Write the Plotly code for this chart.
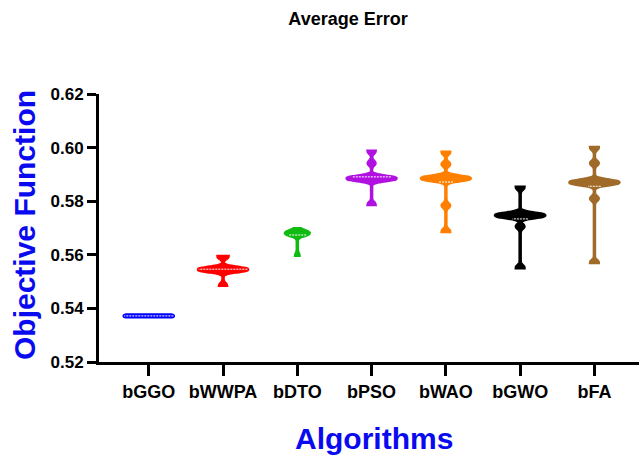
import plotly.graph_objects as go

algorithms = ["bGGO", "bWWPA", "bDTO", "bPSO", "bWAO", "bGWO", "bFA"]

bGGO = [0.5369, 0.5370, 0.5371, 0.5371, 0.5372, 0.5372, 0.5372, 0.5372, 0.5372, 0.5372,
        0.5372, 0.5372, 0.5372, 0.5372, 0.5372, 0.5372, 0.5373, 0.5373, 0.5374, 0.5375]
bWWPA = [0.5486, 0.5486, 0.5541, 0.5543, 0.5545, 0.5545, 0.5545, 0.5545, 0.5545, 0.5545,
         0.5545, 0.5545, 0.5545, 0.5545, 0.5545, 0.5547, 0.5549, 0.5592, 0.5594, 0.5594]
bDTO = [0.5598, 0.5598, 0.5672, 0.5676, 0.5678, 0.5680, 0.5680, 0.5680, 0.5680, 0.5680,
        0.5680, 0.5680, 0.5680, 0.5680, 0.5682, 0.5684, 0.5686, 0.5690, 0.5696, 0.5697]
bPSO = [0.5788, 0.5788, 0.5880, 0.5882, 0.5885, 0.5885, 0.5885, 0.5885, 0.5885, 0.5885,
        0.5885, 0.5885, 0.5885, 0.5885, 0.5885, 0.5888, 0.5890, 0.5942, 0.5942, 0.5986, 0.5986]
bWAO = [0.5687, 0.5688, 0.5784, 0.5784, 0.5878, 0.5881, 0.5883, 0.5885, 0.5885, 0.5885,
        0.5885, 0.5885, 0.5885, 0.5885, 0.5885, 0.5887, 0.5889, 0.5892, 0.5938, 0.5938,
        0.5982, 0.5983]
bGWO = [0.5552, 0.5553, 0.5706, 0.5706, 0.5740, 0.5743, 0.5745, 0.5747, 0.5747, 0.5747,
        0.5747, 0.5747, 0.5747, 0.5747, 0.5747, 0.5749, 0.5751, 0.5754, 0.5851, 0.5852]
bFA = [0.5571, 0.5572, 0.5810, 0.5810, 0.5862, 0.5866, 0.5868, 0.5870, 0.5870, 0.5870,
       0.5870, 0.5870, 0.5870, 0.5870, 0.5870, 0.5872, 0.5874, 0.5878, 0.5942, 0.5942,
       0.5999, 0.6000]

series = [bGGO, bWWPA, bDTO, bPSO, bWAO, bGWO, bFA]
colors = ["#0000FF", "#FF0000", "#11BB11", "#B010E0", "#FF8000", "#000000", "#A06A28"]
widths = [0.66, 0.66, 0.32, 0.66, 0.66, 0.66, 0.66]

y_ticks = [0.52, 0.54, 0.56, 0.58, 0.60, 0.62]

FONT = "Arial, Liberation Sans, sans-serif"

fig = go.Figure()
for i, (name, vals, col) in enumerate(zip(algorithms, series, colors)):
    fig.add_trace(go.Violin(
        x=[i] * len(vals), y=vals, name=name,
        line=dict(color=col, width=3.5),
        fillcolor=col, opacity=1,
        points=False, spanmode="hard", bandwidth=0.0008,
        scalemode="width", width=widths[i],
        meanline=dict(visible=True, color="white", width=1),
        box=dict(visible=False),
        hoveron="violins",
        showlegend=False,
    ))

fig.update_layout(
    width=639, height=455,
    margin=dict(l=99, r=0, t=94, b=93),
    paper_bgcolor="white", plot_bgcolor="white",
    font=dict(family=FONT, color="black"),
    title=dict(text="<b>Average Error</b>", x=348 / 639, xanchor="center",
               y=1 - 19 / 455, yanchor="middle", yref="container",
               font=dict(size=18, family=FONT, color="black")),
    violingap=0, violinmode="overlay",
)

fig.update_xaxes(
    range=[-0.67, 6.6], tickmode="array",
    tickvals=list(range(len(algorithms))),
    ticktext=["<b>%s</b>" % a for a in algorithms],
    showline=True, linecolor="black", linewidth=3,
    ticks="outside", ticklen=11, tickwidth=3, tickcolor="black",
    showgrid=False, zeroline=False,
    tickfont=dict(size=18, family=FONT, color="black"),
)
fig.update_yaxes(
    range=[0.52, 0.62], tickmode="array", tickvals=y_ticks,
    ticktext=["<b>%.2f</b>" % v for v in y_ticks],
    showline=True, linecolor="black", linewidth=3,
    ticks="outside", ticklen=9, tickwidth=3, tickcolor="black",
    showgrid=False, zeroline=False,
    tickfont=dict(size=17, family=FONT, color="black"),
)

fig.add_annotation(text="<b>Algorithms</b>", xref="paper", yref="paper",
                   x=(374 - 99) / 540, y=0, yshift=-76, showarrow=False,
                   xanchor="center", yanchor="middle",
                   font=dict(size=30, family=FONT, color="#0A0AF0"))
fig.add_annotation(text="<b>Objective Function</b>", xref="paper", yref="paper",
                   x=(24 - 99) / 540, y=(362 - 225) / 268, textangle=-90,
                   showarrow=False, xanchor="center", yanchor="middle",
                   font=dict(size=30, family=FONT, color="#0A0AF0"))

fig.write_html("out.html",
               config={"displayModeBar": False},
               post_script="document.body.style.margin='0px';document.body.style.overflow='hidden';")
